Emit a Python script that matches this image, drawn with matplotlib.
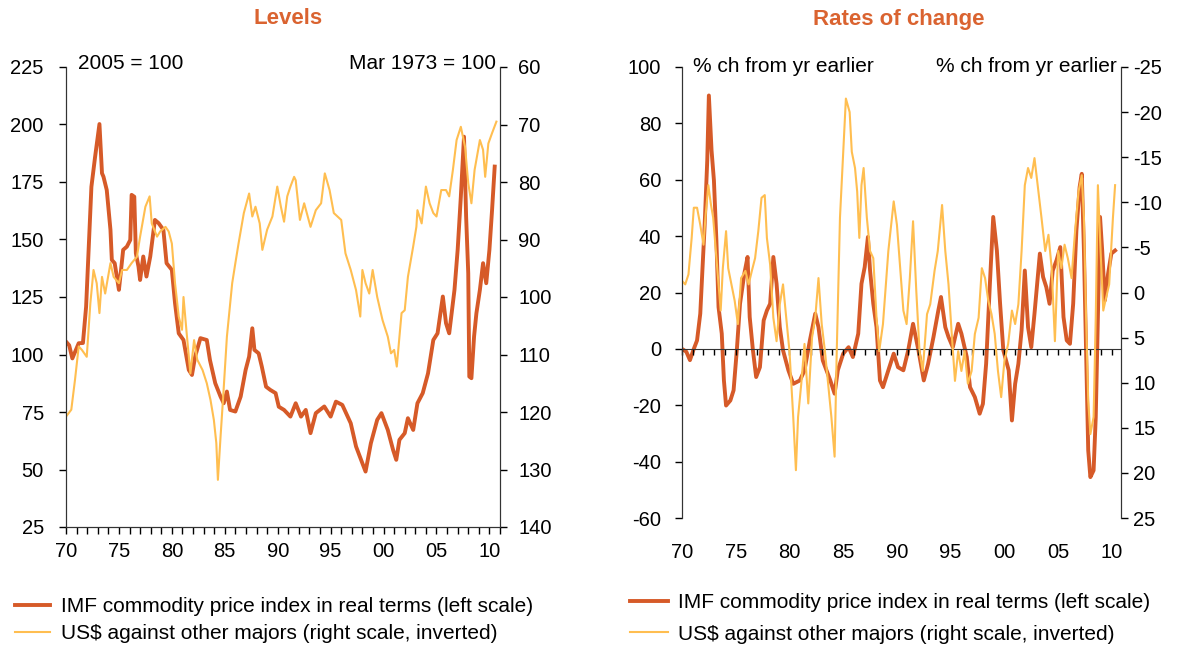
import matplotlib
matplotlib.use('Agg')
import matplotlib.pyplot as plt
from matplotlib.lines import Line2D

plt.rcParams['font.family'] = ['Liberation Sans', 'DejaVu Sans']
plt.rcParams['axes.unicode_minus'] = False

ORANGE = '#D65A28'
YELLOW = '#FFBE50'
TITLE_COL = '#DA6330'

# ---- Levels panel ----
lvl_imf_year = [1970.0, 1970.3, 1970.6, 1971.2, 1971.6, 1971.9, 1972.4, 1972.75, 1973.16, 1973.4,
                1973.54, 1973.85, 1974.2, 1974.33, 1974.6, 1975.0, 1975.1, 1975.4, 1975.75, 1976.07,
                1976.2, 1976.45, 1976.6, 1976.85, 1977.0, 1977.3, 1977.6, 1977.96, 1978.4, 1978.75,
                1979.2, 1979.5, 1980.0, 1980.3, 1980.65, 1981.1, 1981.6, 1981.9, 1982.2, 1982.7,
                1983.3, 1983.6, 1984.1, 1984.6, 1984.9, 1985.2, 1985.5, 1986.0, 1986.5, 1986.97,
                1987.3, 1987.6, 1987.8, 1988.2, 1988.5, 1988.9, 1989.3, 1989.8, 1990.1, 1990.6,
                1991.2, 1991.7, 1992.2, 1992.65, 1993.1, 1993.6, 1994.4, 1995.0, 1995.5, 1996.1,
                1996.9, 1997.4, 1998.0, 1998.3, 1998.8, 1999.4, 1999.8, 2000.4, 2000.9, 2001.2,
                2001.5, 2002.0, 2002.3, 2002.8, 2003.2, 2003.7, 2004.2, 2004.7, 2005.1, 2005.6,
                2005.9, 2006.2, 2006.7, 2007.0, 2007.3, 2007.6, 2007.8, 2008.0, 2008.1, 2008.3,
                2008.55, 2008.77, 2009.1, 2009.4, 2009.7, 2010.0, 2010.25, 2010.5]
lvl_imf = [105.6, 104.0, 98.3, 104.9, 105.0, 120.8, 172.9, 186.0, 200.2, 178.8,
           177.3, 171.5, 154.2, 141.1, 139.7, 128.1, 132.4, 145.5, 146.9, 149.8,
           169.4, 168.6, 144.0, 138.2, 132.4, 142.6, 133.9, 142.6, 158.5, 157.1,
           154.2, 139.7, 136.8, 122.3, 109.2, 106.3, 93.3, 91.1, 99.1, 107.1,
           106.3, 97.6, 87.5, 81.7, 78.8, 83.9, 75.9, 75.2, 81.7, 93.3,
           99.1, 111.4, 102.0, 100.5, 94.7, 86.0, 84.6, 83.2, 77.3, 75.9,
           73.0, 78.8, 73.0, 75.9, 65.8, 74.5, 77.4, 73.0, 79.5, 78.1,
           70.1, 60.0, 52.7, 49.1, 61.4, 71.6, 74.5, 67.2, 58.5, 54.2,
           62.9, 65.8, 72.3, 67.2, 78.8, 83.2, 91.8, 106.3, 109.2, 125.2,
           113.6, 109.2, 128.1, 145.5, 168.6, 194.7, 159.9, 135.3, 90.4, 89.7,
           107.8, 117.9, 128.1, 139.7, 131.0, 145.5, 162.8, 181.7]

lvl_usd_year = [1970.0, 1970.5, 1970.85, 1971.2, 1971.5, 1971.96, 1972.3, 1972.6, 1972.9, 1973.16,
                1973.4, 1973.7, 1974.2, 1974.5, 1975.0, 1975.3, 1975.75, 1976.2, 1976.7, 1977.0,
                1977.5, 1977.9, 1978.1, 1978.6, 1978.9, 1979.4, 1979.7, 1980.0, 1980.3, 1980.65,
                1980.96, 1981.1, 1981.4, 1981.75, 1982.1, 1982.4, 1982.9, 1983.3, 1983.65, 1983.97,
                1984.2, 1984.35, 1984.6, 1984.85, 1985.2, 1985.7, 1986.0, 1986.3, 1986.8, 1987.3,
                1987.6, 1987.9, 1988.3, 1988.55, 1989.0, 1989.5, 1989.96, 1990.3, 1990.6, 1990.9,
                1991.2, 1991.55, 1991.7, 1992.1, 1992.5, 1993.1, 1993.6, 1994.1, 1994.45, 1994.9,
                1995.3, 1996.0, 1996.4, 1996.9, 1997.4, 1997.8, 1998.0, 1998.3, 1998.65, 1998.97,
                1999.4, 1999.9, 2000.4, 2000.7, 2001.0, 2001.25, 2001.5, 2001.7, 2002.0, 2002.3,
                2002.8, 2003.1, 2003.2, 2003.6, 2004.0, 2004.35, 2004.7, 2005.0, 2005.45, 2005.9,
                2006.2, 2006.55, 2006.9, 2007.3, 2007.7, 2008.0, 2008.3, 2008.6, 2009.1, 2009.4,
                2009.6, 2009.9, 2010.25, 2010.66]
lvl_usd = [120.8, 119.6, 114.4, 108.6, 109.2, 110.4, 101.1, 95.3, 97.6, 102.8,
           96.5, 99.4, 94.1, 96.5, 97.6, 95.3, 95.3, 94.1, 93.0, 89.5,
           84.3, 82.5, 87.2, 89.5, 88.6, 87.8, 88.6, 90.7, 97.6, 103.4,
           105.7, 100.0, 106.3, 113.3, 107.5, 110.9, 112.7, 115.0, 117.9, 121.4,
           125.4, 131.8, 124.3, 117.3, 106.9, 97.6, 94.1, 90.7, 85.4, 82.0,
           86.0, 84.3, 87.2, 91.8, 88.3, 86.0, 80.8, 84.3, 86.9, 82.5,
           80.8, 79.1, 79.7, 86.6, 83.7, 87.8, 84.9, 83.7, 78.5, 81.4,
           85.4, 86.6, 92.4, 95.3, 98.8, 103.4, 95.3, 97.6, 99.4, 95.3,
           100.0, 104.0, 106.9, 109.8, 109.2, 112.1, 106.9, 102.8, 102.3, 96.5,
           91.2, 87.8, 84.9, 87.2, 80.8, 83.7, 85.4, 86.0, 81.4, 81.4,
           82.5, 77.9, 72.7, 70.4, 73.9, 80.2, 83.7, 77.9, 72.7, 74.4,
           79.1, 73.3, 71.5, 69.5]

# ---- Rates of change panel ----
roc_imf_year = [1970.0, 1970.4, 1970.74, 1971.05, 1971.4, 1971.7, 1971.9, 1972.1, 1972.35, 1972.5,
                1972.75, 1972.97, 1973.2, 1973.4, 1973.7, 1973.9, 1974.1, 1974.5, 1974.8, 1975.1,
                1975.4, 1975.8, 1976.1, 1976.3, 1976.6, 1976.9, 1977.25, 1977.6, 1977.9, 1978.2,
                1978.5, 1978.8, 1979.1, 1979.4, 1979.9, 1980.35, 1980.97, 1981.4, 1981.9, 1982.4,
                1982.7, 1983.1, 1983.8, 1984.2, 1984.5, 1985.0, 1985.5, 1985.9, 1986.4, 1986.7,
                1987.0, 1987.3, 1987.5, 1987.8, 1988.1, 1988.42, 1988.7, 1989.2, 1989.7, 1990.1,
                1990.6, 1991.05, 1991.5, 1992.0, 1992.5, 1992.9, 1993.4, 1993.85, 1994.1, 1994.5,
                1994.8, 1995.2, 1995.7, 1996.0, 1996.5, 1996.8, 1997.25, 1997.7, 1998.0, 1998.3,
                1998.65, 1998.96, 1999.3, 1999.6, 1999.9, 2000.4, 2000.7, 2001.0, 2001.3, 2001.6,
                2001.9, 2002.2, 2002.5, 2002.8, 2003.3, 2003.6, 2003.9, 2004.2, 2004.5, 2004.85,
                2005.2, 2005.5, 2005.8, 2006.1, 2006.4, 2006.7, 2007.0, 2007.2, 2007.4, 2007.6,
                2007.8, 2008.0, 2008.3, 2008.5, 2008.7, 2008.9, 2009.1, 2009.35, 2009.65, 2009.95,
                2010.3]
roc_imf = [0.0, -1.0, -4.0, -0.5, 3.0, 12.5, 28.0, 43.2, 66.9, 89.9,
           70.4, 59.8, 38.5, 14.8, 5.4, -11.2, -20.1, -18.3, -14.7, -0.5,
           16.0, 26.7, 32.6, 11.3, -0.5, -10.0, -6.5, 10.1, 13.6, 16.0,
           32.6, 23.1, 7.7, -0.5, -7.6, -12.4, -11.2, -7.6, 3.0, 12.5,
           7.7, -4.1, -11.2, -15.9, -7.6, -1.7, 0.6, -2.9, 5.4, 23.1,
           29.0, 39.7, 27.8, 16.0, 7.7, -11.2, -13.6, -7.6, -1.7, -6.5,
           -7.6, -0.5, 8.9, -0.5, -11.2, -5.3, 4.2, 13.6, 18.4, 7.7,
           4.2, 0.6, 8.9, 5.4, -2.9, -13.6, -17.1, -23.0, -19.5, -5.3,
           23.1, 46.8, 34.9, 16.0, -0.5, -7.6, -25.4, -12.4, -5.3, 6.6,
           27.8, 7.7, 0.6, 12.5, 33.8, 25.5, 21.9, 16.0, 27.8, 31.4,
           36.1, 11.3, 3.0, 1.8, 16.0, 42.0, 57.4, 62.1, 34.9, -0.5,
           -36.0, -45.5, -43.1, -24.2, 11.3, 46.8, 34.9, 17.2, 26.7, 33.8,
           34.9]

roc_usd_year = [1970.0, 1970.3, 1970.6, 1970.9, 1971.1, 1971.4, 1971.7, 1972.0, 1972.2, 1972.45,
                1972.7, 1972.9, 1973.2, 1973.4, 1973.6, 1973.8, 1974.1, 1974.3, 1974.6, 1974.9,
                1975.2, 1975.5, 1975.9, 1976.2, 1976.5, 1976.8, 1977.1, 1977.4, 1977.7, 1977.9,
                1978.2, 1978.5, 1978.8, 1979.1, 1979.4, 1979.7, 1980.0, 1980.35, 1980.6, 1980.8,
                1981.1, 1981.4, 1981.75, 1982.1, 1982.4, 1982.7, 1983.0, 1983.3, 1983.6, 1983.9,
                1984.2, 1984.4, 1984.7, 1985.0, 1985.25, 1985.6, 1985.8, 1986.1, 1986.3, 1986.5,
                1986.7, 1986.9, 1987.2, 1987.5, 1987.8, 1988.1, 1988.35, 1988.7, 1989.2, 1989.7,
                1990.0, 1990.3, 1990.6, 1990.9, 1991.2, 1991.5, 1991.8, 1992.1, 1992.4, 1992.8,
                1993.1, 1993.5, 1993.8, 1994.2, 1994.5, 1994.8, 1995.1, 1995.4, 1995.7, 1996.0,
                1996.3, 1996.6, 1996.95, 1997.25, 1997.6, 1997.9, 1998.2, 1998.5, 1998.8, 1999.1,
                1999.4, 1999.7, 2000.0, 2000.35, 2000.7, 2001.0, 2001.3, 2001.6, 2001.9, 2002.2,
                2002.5, 2002.8, 2003.1, 2003.45, 2003.8, 2004.1, 2004.4, 2004.7, 2005.0, 2005.3,
                2005.6, 2005.9, 2006.25, 2006.55, 2006.9, 2007.2, 2007.4, 2007.6, 2007.8, 2008.0,
                2008.3, 2008.5, 2008.7, 2008.95, 2009.2, 2009.4, 2009.75, 2010.1, 2010.3]
roc_usd = [-1.3, -0.9, -2.0, -6.05, -9.4, -9.4, -7.5, -5.3, -8.6, -11.9,
           -9.7, -8.3, -3.8, -0.9, 2.0, -2.7, -6.8, -2.7, -0.9, 0.9,
           3.5, -1.6, -2.4, -0.9, -2.4, -3.8, -6.8, -10.5, -10.8, -6.05,
           -3.1, 2.8, 5.4, 1.3, -0.9, 2.8, 6.5, 13.8, 19.7, 13.8,
           10.1, 5.7, 12.3, 5.0, 2.8, -1.6, 3.5, 6.5, 10.1, 13.8,
           18.2, 6.5, -8.3, -15.6, -21.5, -20.0, -15.6, -13.8, -11.2, -6.05,
           -11.9, -13.8, -8.3, -4.6, -3.8, 2.8, 6.5, 3.5, -4.6, -10.1,
           -7.5, -2.7, 2.0, 3.5, -1.6, -7.9, -0.2, 6.5, 8.7, 2.4,
           1.3, -2.4, -4.6, -9.7, -4.6, -0.9, 4.6, 9.8, 6.5, 8.7,
           6.5, 10.1, 8.7, 4.6, 2.8, -2.7, -1.6, 0.9, 2.4, 4.6,
           8.7, 11.6, 7.6, 5.7, 2.0, 3.5, 1.3, -4.6, -11.9, -13.8,
           -12.7, -14.9, -11.9, -8.3, -4.6, -6.4, -2.7, 5.4, -4.6, -2.7,
           -5.3, -3.8, -1.6, -6.4, -11.2, -13.0, -8.3, 2.8, 12.0, 15.7,
           13.8, 2.8, -11.9, -4.6, 2.0, 0.9, -0.9, -8.3, -11.9]

W, H = 1177, 650
fig = plt.figure(figsize=(W / 100, H / 100), dpi=100)

FS = 14.5     # tick labels
FS_TXT = 15   # notes and legend
year_major = list(range(1970, 2011, 5))
year_labels = ['70', '75', '80', '85', '90', '95', '00', '05', '10']

# ---------------- Levels ----------------
ax1 = fig.add_axes([66 / W, 1 - 527 / H, 434 / W, 460 / H])
ax2 = ax1.twinx()
ax1.plot(lvl_imf_year, lvl_imf, color=ORANGE, lw=2.8)
ax2.plot(lvl_usd_year, lvl_usd, color=YELLOW, lw=1.5)

ax1.set_xlim(1970, 2011)
ax1.set_ylim(25, 225)
ax1.set_yticks(range(25, 226, 25))
ax2.set_ylim(140, 60)
ax2.set_yticks(range(60, 141, 10))
ax1.set_xticks(year_major)
ax1.set_xticklabels(year_labels)
ax1.set_xticks(range(1970, 2012), minor=True)
ax1.tick_params(axis='x', which='both', direction='out', length=5, width=1, pad=6, labelsize=FS)
ax1.tick_params(axis='y', direction='out', length=5, width=1, pad=11, labelsize=FS)
ax2.tick_params(axis='y', direction='out', length=5, width=1, pad=8, labelsize=FS)
ax1.spines['top'].set_visible(False)
ax2.spines['top'].set_visible(False)
for sp in ax1.spines.values():
    sp.set_color('#333333')
for sp in ax2.spines.values():
    sp.set_color('#333333')

ax1.text(0.028, 1.007, '2005 = 100', transform=ax1.transAxes, ha='left', va='center', fontsize=FS_TXT)
ax1.text(0.991, 1.007, 'Mar 1973 = 100', transform=ax1.transAxes, ha='right', va='center', fontsize=FS_TXT)
fig.text(288 / W, 1 - 19 / H, 'Levels', ha='center', va='center', fontsize=16,
         fontweight='bold', color=TITLE_COL)

# ---------------- Rates of change ----------------
ax3 = fig.add_axes([682 / W, 1 - 518 / H, 439 / W, 451 / H])
ax4 = ax3.twinx()
ax3.plot(roc_imf_year, roc_imf, color=ORANGE, lw=2.8)
ax4.plot(roc_usd_year, roc_usd, color=YELLOW, lw=1.5)

ax3.set_xlim(1970, 2010.85)
ax3.set_ylim(-60, 100)
ax3.set_yticks(range(-60, 101, 20))
ax4.set_ylim(25, -25)
ax4.set_yticks(range(-25, 26, 5))
ax3.set_xticks(year_major)
ax3.set_xticklabels(year_labels)
ax3.tick_params(axis='x', length=0, pad=18, labelsize=FS)
ax3.tick_params(axis='y', direction='out', length=5, width=1, pad=10, labelsize=FS)
ax4.tick_params(axis='y', direction='out', length=5, width=1, pad=4, labelsize=FS)
for a in (ax3, ax4):
    a.spines['top'].set_visible(False)
    a.spines['bottom'].set_visible(False)
    for sp in a.spines.values():
        sp.set_color('#333333')

# zero line with yearly ticks
zero_pos = (0 - (-60)) / 160
sec = ax3.secondary_xaxis(zero_pos)
sec.set_xticks(range(1970, 2011))
sec.tick_params(axis='x', direction='out', length=4, width=1, labelbottom=False, labeltop=False)
sec.spines['bottom'].set_color('#333333')
sec.set_zorder(5)

ax3.text(0.025, 1.0, '% ch from yr earlier', transform=ax3.transAxes, ha='left', va='center', fontsize=FS_TXT)
ax3.text(0.991, 1.0, '% ch from yr earlier', transform=ax3.transAxes, ha='right', va='center', fontsize=FS_TXT)
fig.text(899 / W, 1 - 19 / H, 'Rates of change', ha='center', va='center', fontsize=16,
         fontweight='bold', color=TITLE_COL)

# ---------------- legends ----------------
handles = [Line2D([], [], color=ORANGE, lw=2.8), Line2D([], [], color=YELLOW, lw=1.5)]
labels = ['IMF commodity price index in real terms (left scale)',
          'US$ against other majors (right scale, inverted)']
fig.legend(handles, labels, loc='upper left', bbox_to_anchor=(15 / W, 1 - 597 / H),
           frameon=False, fontsize=FS_TXT, handlelength=1.7, handletextpad=0.5,
           labelspacing=0.4, borderpad=0, borderaxespad=0)
fig.legend(handles, labels, loc='upper left', bbox_to_anchor=(630 / W, 1 - 593 / H),
           frameon=False, fontsize=FS_TXT, handlelength=1.8, handletextpad=0.5,
           labelspacing=0.6, borderpad=0, borderaxespad=0)

fig.savefig('out.png', dpi=100)
